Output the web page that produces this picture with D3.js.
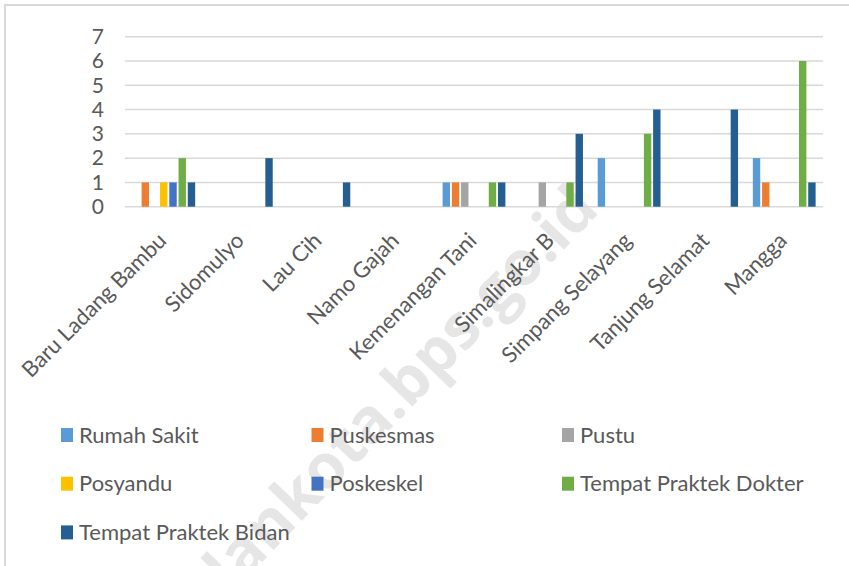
<!DOCTYPE html>
<html>
<head>
<meta charset="utf-8">
<script src="https://cdnjs.cloudflare.com/ajax/libs/d3/7.8.5/d3.min.js"></script>
<style>
  body { margin: 0; background: #fff; }
  svg { display: block; }
  text { font-family: Lato, "Liberation Sans Narrow", sans-serif; fill: #595959; }
</style>
</head>
<body>
<svg id="chart"></svg>
<script>
var categories = ["Baru Ladang Bambu", "Sidomulyo", "Lau Cih", "Namo Gajah", "Kemenangan Tani",
    "Simalingkar B", "Simpang Selayang", "Tanjung Selamat", "Mangga"];
var seriesNames = ["Rumah Sakit", "Puskesmas", "Pustu", "Posyandu", "Poskeskel",
    "Tempat Praktek Dokter", "Tempat Praktek Bidan"];
var colors = ["#5b9bd5", "#ed7d31", "#a5a5a5", "#ffc000", "#4472c4", "#70ad47", "#255e91"];

// one array per series, in category order
var rumahSakit   = [0, 0, 0, 0, 1, 0, 2, 0, 2];
var puskesmas    = [1, 0, 0, 0, 1, 0, 0, 0, 1];
var pustu        = [0, 0, 0, 0, 1, 1, 0, 0, 0];
var posyandu     = [1, 0, 0, 0, 0, 0, 0, 0, 0];
var poskeskel    = [1, 0, 0, 0, 0, 0, 0, 0, 0];
var praktekDokter = [2, 0, 0, 0, 1, 1, 3, 0, 6];
var praktekBidan = [1, 2, 1, 0, 1, 3, 4, 4, 1];
var yTicks = [0, 1, 2, 3, 4, 5, 6, 7];

var seriesValues = [rumahSakit, puskesmas, pustu, posyandu, poskeskel, praktekDokter, praktekBidan];

var width = 849, height = 566;

var svg = d3.select("#chart")
    .attr("width", width)
    .attr("height", height);

// chart frame (only left/top edges show in the picture)
svg.append("path")
    .attr("d", "M5,566 V5 H849")
    .attr("fill", "none")
    .attr("stroke", "#d9d9d9")
    .attr("stroke-width", 2);

// watermark
svg.append("text")
    .attr("transform", "translate(375,445) rotate(-46)")
    .attr("text-anchor", "middle")
    .style("font-family", "'Open Sans', sans-serif")
    .style("font-weight", "bold")
    .style("font-size", "62px")
    .style("fill", "#e6e6e6")
    .text("medankota.bps.go.id");

var x0 = d3.scaleBand()
    .domain(categories)
    .range([125, 823])
    .padding(0);

var x1 = d3.scaleBand()
    .domain(seriesNames)
    .range([0, x0.bandwidth()])
    .paddingInner(0.2)
    .paddingOuter(0.8);

var y = d3.scaleLinear()
    .domain([0, 7])
    .range([206.7, 36.7]);

// gridlines
svg.append("g")
    .selectAll("line")
    .data(yTicks)
    .enter().append("line")
    .attr("x1", 125)
    .attr("x2", 823)
    .attr("y1", function(d) { return y(d); })
    .attr("y2", function(d) { return y(d); })
    .attr("stroke", "#d9d9d9")
    .attr("stroke-width", 1.5);

// y tick labels
svg.append("g")
    .selectAll("text")
    .data(yTicks)
    .enter().append("text")
    .attr("x", 104)
    .attr("y", function(d) { return y(d); })
    .attr("dy", "0.35em")
    .attr("text-anchor", "end")
    .style("font-size", "21px")
    .text(function(d) { return d; });

// bars
var groups = svg.append("g")
    .selectAll("g")
    .data(seriesNames)
    .enter().append("g")
    .attr("fill", function(d, i) { return colors[i]; });

groups.selectAll("rect")
    .data(function(d, i) {
        return categories.map(function(c, j) { return {cat: c, s: d, v: seriesValues[i][j]}; })
            .filter(function(e) { return e.v > 0; });
    })
    .enter().append("rect")
    .attr("x", function(d) { return x0(d.cat) + x1(d.s); })
    .attr("width", x1.bandwidth())
    .attr("y", function(d) { return y(d.v); })
    .attr("height", function(d) { return y(0) - y(d.v); });

// x labels, rotated
svg.append("g")
    .selectAll("text")
    .data(categories)
    .enter().append("text")
    .attr("transform", function(d) {
        return "translate(" + (x0(d) + x0.bandwidth() / 2 + 4) + ",242) rotate(-45)";
    })
    .attr("text-anchor", "end")
    .style("font-size", "22px")
    .text(function(d) { return d; });

// legend
var legend = svg.append("g")
    .selectAll("g")
    .data(seriesNames)
    .enter().append("g")
    .attr("transform", function(d, i) {
        return "translate(" + (61 + (i % 3) * 250.5) + "," + (435 + Math.floor(i / 3) * 48.7) + ")";
    });

legend.append("rect")
    .attr("x", 0)
    .attr("y", -7)
    .attr("width", 12)
    .attr("height", 14)
    .attr("fill", function(d, i) { return colors[i]; });

legend.append("text")
    .attr("x", 18)
    .attr("y", 0)
    .attr("dy", "0.35em")
    .style("font-size", "22px")
    .text(function(d) { return d; });
</script>
</body>
</html>
